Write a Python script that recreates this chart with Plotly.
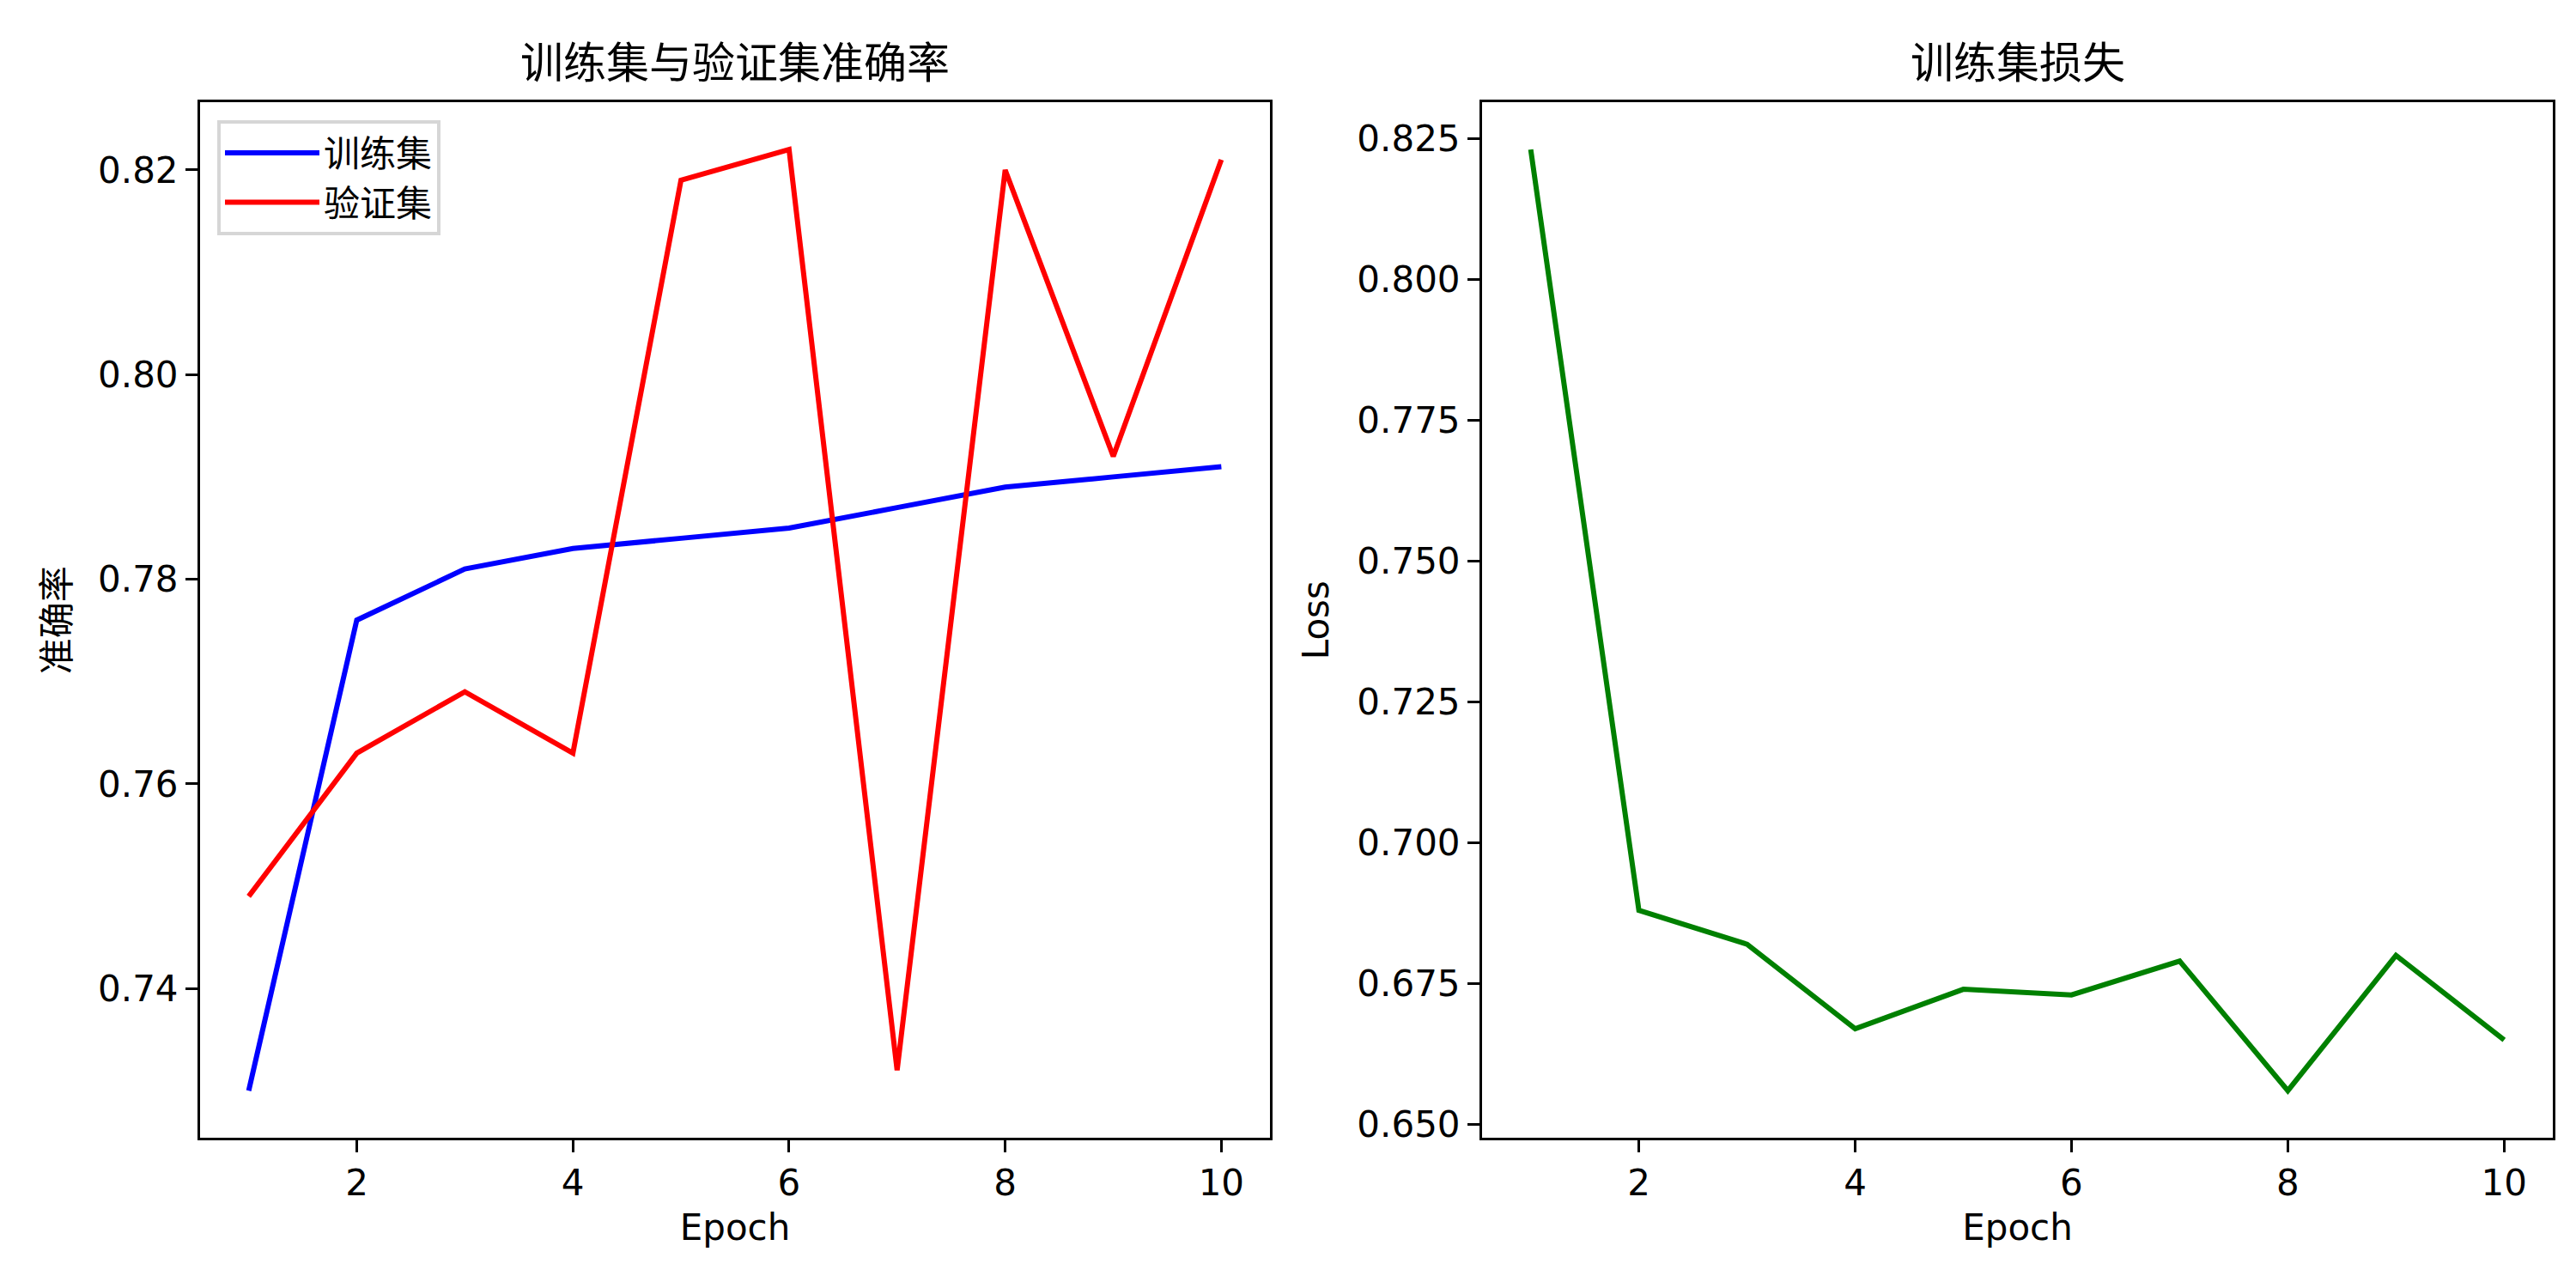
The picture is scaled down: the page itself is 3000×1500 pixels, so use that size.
import plotly.graph_objects as go

# training history
epochs = [1, 2, 3, 4, 5, 6, 7, 8, 9, 10]
train_acc = [0.730, 0.776, 0.781, 0.783, 0.784, 0.785, 0.787, 0.789, 0.790, 0.791]
val_acc = [0.749, 0.763, 0.769, 0.763, 0.819, 0.822, 0.732, 0.820, 0.792, 0.821]
train_loss = [0.823, 0.688, 0.682, 0.667, 0.674, 0.673, 0.679, 0.656, 0.680, 0.665]

FONT = "DejaVu Sans, Noto Sans CJK SC, sans-serif"
W, H = 3000, 1500

fig = go.Figure()

fig.add_trace(go.Scatter(x=epochs, y=train_acc, mode="lines", name="训练集",
                         line=dict(color="#0000ff", width=6), xaxis="x", yaxis="y"))
fig.add_trace(go.Scatter(x=epochs, y=val_acc, mode="lines", name="验证集",
                         line=dict(color="#ff0000", width=6), xaxis="x", yaxis="y"))
fig.add_trace(go.Scatter(x=epochs, y=train_loss, mode="lines", name="训练集损失",
                         line=dict(color="#008000", width=6), xaxis="x2", yaxis="y2",
                         showlegend=False))


def pad_range(vals, frac=0.05):
    lo, hi = min(vals), max(vals)
    m = (hi - lo) * frac
    return [lo - m, hi + m]


axis_style = dict(
    showline=True, linecolor="black", linewidth=3, mirror=True,
    ticks="outside", ticklen=14, tickwidth=3, tickcolor="black",
    showgrid=False, zeroline=False,
    tickfont=dict(family=FONT, size=42, color="black"),
)

left_dom = [225 / W, 1471 / W]
right_dom = [1718 / W, 2965 / W]
y_dom = [(H - 1325) / H, (H - 112) / H]

fig.update_layout(
    width=W, height=H,
    margin=dict(l=0, r=0, t=0, b=0),
    paper_bgcolor="white", plot_bgcolor="white",
    font=dict(family=FONT, size=42, color="black"),
    xaxis=dict(domain=left_dom, range=pad_range(epochs), tick0=0, dtick=2,
               title=dict(text="Epoch", font=dict(size=42), standoff=14),
               anchor="y", **axis_style),
    yaxis=dict(domain=y_dom, range=pad_range(train_acc + val_acc), tick0=0, dtick=0.02,
               tickformat=".2f",
               title=dict(text="准确率", font=dict(size=42), standoff=20),
               anchor="x", **axis_style),
    xaxis2=dict(domain=right_dom, range=pad_range(epochs), tick0=0, dtick=2,
                title=dict(text="Epoch", font=dict(size=42), standoff=14),
                anchor="y2", **axis_style),
    yaxis2=dict(domain=y_dom, range=pad_range(train_loss), tick0=0, dtick=0.025,
                tickformat=".3f",
                title=dict(text="Loss", font=dict(size=42), standoff=20),
                anchor="x2", **axis_style),
    legend=dict(x=245 / W, y=(H - 133) / H, xanchor="left", yanchor="top",
                itemwidth=110, tracegroupgap=10,
                bgcolor="rgba(255,255,255,0.8)", bordercolor="#d6d6d6", borderwidth=4,
                font=dict(family=FONT, size=42, color="black")),
    annotations=[
        dict(text="训练集与验证集准确率", x=sum(left_dom) / 2, y=(H - 66) / H,
             xref="paper", yref="paper", xanchor="center", yanchor="middle",
             showarrow=False, font=dict(family=FONT, size=50, color="black")),
        dict(text="训练集损失", x=sum(right_dom) / 2, y=(H - 66) / H,
             xref="paper", yref="paper", xanchor="center", yanchor="middle",
             showarrow=False, font=dict(family=FONT, size=50, color="black")),
    ],
)

fig.write_html("out.html")
